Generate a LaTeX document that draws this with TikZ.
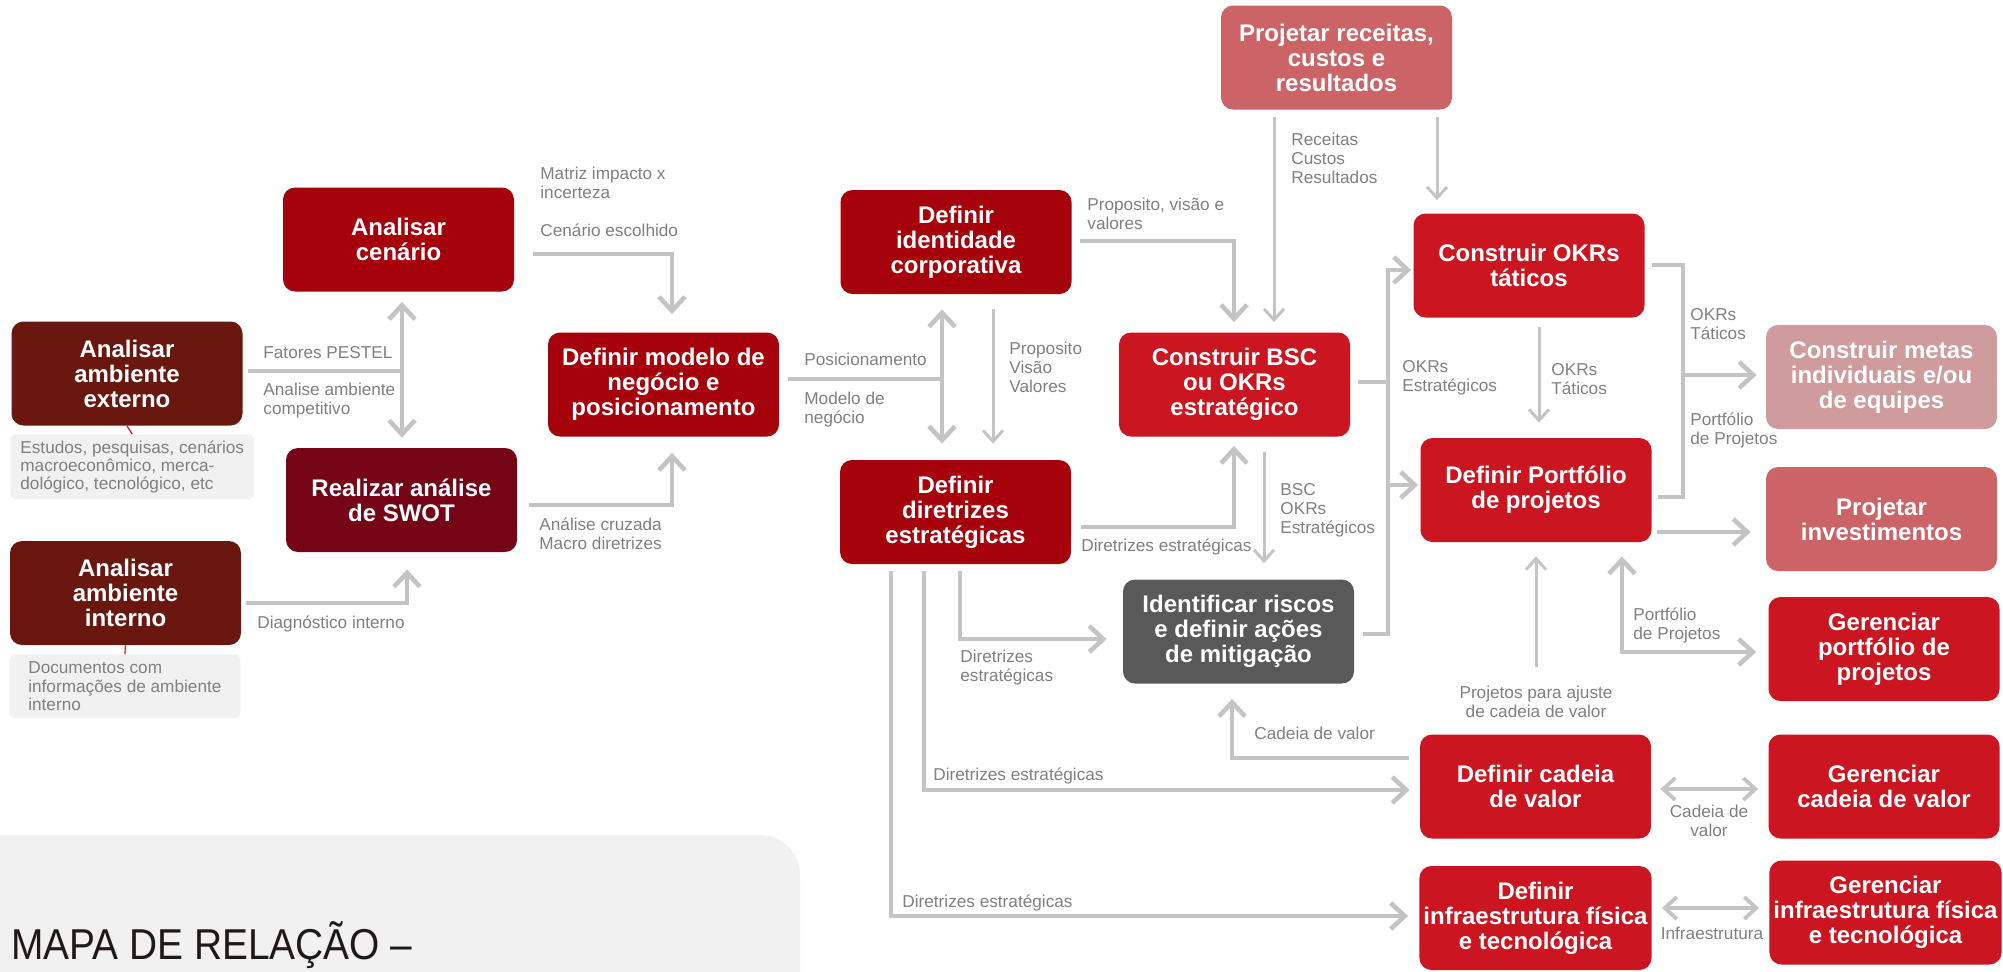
\documentclass[tikz,border=0pt]{standalone}
\usepackage{fontspec}
\setmainfont{Liberation Sans}
\newfontfamily\titlefont{Liberation Sans}[FakeStretch=0.9]
\usetikzlibrary{arrows.meta,calc}
\definecolor{BrownClr}{HTML}{6A1710}
\definecolor{DarkRedClr}{HTML}{A5020C}
\definecolor{MaroonClr}{HTML}{760417}
\definecolor{RedClr}{HTML}{CB1520}
\definecolor{SalmonClr}{HTML}{CC6367}
\definecolor{PinkClr}{HTML}{CF9B9D}
\definecolor{RiskClr}{HTML}{595959}
\definecolor{LineClr}{HTML}{C4C4C4}
\definecolor{LabelClr}{HTML}{808080}
\definecolor{NoteClr}{HTML}{F1F1F1}
\definecolor{TitleClr}{HTML}{1F1A17}

\begin{document}
\begin{tikzpicture}[x=0.5pt,y=-0.5pt,
  box/.style={rounded corners=6pt,minimum width=115.5pt,minimum height=52pt,inner sep=2pt,
    align=center,text=white,font=\fontsize{12}{12.5}\selectfont\bfseries},
  brownbox/.style={box,fill=BrownClr},
  darkbox/.style={box,fill=DarkRedClr},
  maroonbox/.style={box,fill=MaroonClr},
  redbox/.style={box,fill=RedClr},
  salmonbox/.style={box,fill=SalmonClr},
  pinkbox/.style={box,fill=PinkClr},
  riskbox/.style={box,fill=RiskClr},
  note/.style={rounded corners=3pt,fill=NoteClr,anchor=north west,minimum width=115.5pt,minimum height=32pt,
    inner xsep=5pt,inner ysep=3pt,align=left,text=LabelClr,font=\fontsize{8.6}{9.2}\selectfont},
  lbl/.style={inner sep=0pt,anchor=north west,align=left,text=LabelClr,font=\fontsize{8.6}{9.5}\selectfont},
  conn/.style={draw=LineClr,line width=2.3pt,>={Straight Barb[length=7pt,width=13pt]}},
  midconn/.style={draw=LineClr,line width=1.9pt,>={Straight Barb[length=6pt,width=11pt]}},
  fine/.style={draw=LineClr,line width=1.5pt,>={Straight Barb[length=5.5pt,width=10pt]}},
  redline/.style={draw=RedClr,line width=0.6pt}]
\useasboundingbox (0,0) rectangle (2003,971);

\begin{scope}
\clip (0,0) rectangle (2003,971);
\fill[NoteClr,rounded corners=20pt] (-60,835) rectangle (800,1040);
\end{scope}
\node[anchor=base west,inner sep=0pt,text=TitleClr,font=\titlefont\fontsize{21.6}{24}\selectfont] (titulo) at (11,959) {MAPA DE RELAÇÃO –};

% boxes
\node[brownbox] (ambExt) at (127,373.5) {Analisar\\ambiente\\externo};
\node[brownbox] (ambInt) at (125.5,593) {Analisar\\ambiente\\interno};
\node[note] (notaExt) at (10,434) {Estudos, pesquisas, cenários\\macroeconômico, merca-\\dológico, tecnológico, etc};
\node[note] (notaInt) at (9,654) {Documentos com\\informações de ambiente\\interno};
\node[darkbox] (cenario) at (398.5,239.5) {Analisar\\cenário};
\node[maroonbox] (swot) at (401.5,500) {Realizar análise\\de SWOT};
\node[darkbox] (modelo) at (663.5,384.5) {Definir modelo de\\negócio e\\posicionamento};
\node[darkbox] (identidade) at (956,242) {Definir\\identidade\\corporativa};
\node[darkbox] (diretrizes) at (955.5,512) {Definir\\diretrizes\\estratégicas};
\node[salmonbox] (receitas) at (1336.5,57.5) {Projetar receitas,\\custos e\\resultados};
\node[redbox] (bsc) at (1234.5,384.5) {Construir BSC\\ou OKRs\\estratégico};
\node[riskbox] (riscos) at (1238.5,631.5) {Identificar riscos\\e definir ações\\de mitigação};
\node[redbox] (okrTat) at (1529,265.5) {Construir OKRs\\táticos};
\node[redbox] (portfolio) at (1536,490) {Definir Portfólio\\de projetos};
\node[pinkbox] (metas) at (1881.5,377) {Construir metas\\individuais e/ou\\de equipes};
\node[salmonbox] (invest) at (1881.5,519) {Projetar\\investimentos};
\node[redbox] (gerPort) at (1884,649) {Gerenciar\\portfólio de\\projetos};
\node[redbox] (cadeia) at (1535.5,786.5) {Definir cadeia\\de valor};
\node[redbox] (gerCad) at (1884,786.5) {Gerenciar\\cadeia de valor};
\node[redbox] (infra) at (1535.5,918) {Definir\\infraestrutura física\\e tecnológica};
\node[redbox] (gerInfra) at (1885.5,912.5) {Gerenciar\\infraestrutura física\\e tecnológica};

\draw[redline] (ambExt.south) -- (notaExt.north);
\draw[redline] (ambInt.south) -- (notaInt.north);

% junctions
\coordinate (jPest) at (402,371);
\coordinate (jCen) at (672,254);
\coordinate (jSwot) at (672,505);
\coordinate (jInt) at (407,603);
\coordinate (jMod) at (942,379);
\coordinate (jIdV) at (993,0);
\coordinate (jIdB) at (1234,241);
\coordinate (jRecB) at (1274,0);
\coordinate (jRecO) at (1437,0);
\coordinate (rTop) at (1388,270);
\coordinate (rBsc) at (1388,382);
\coordinate (rPort) at (1388,485);
\coordinate (rBot) at (1388,634);
\coordinate (jTat) at (1539,0);
\coordinate (bTop) at (1683,265);
\coordinate (bMid) at (1683,375);
\coordinate (bBot) at (1683,497);
\coordinate (jInv) at (1700,532);
\coordinate (jGp) at (1622,652);
\coordinate (jAj) at (1536,0);
\coordinate (jCr) at (1232,758);
\coordinate (jDb) at (1234,527);
\coordinate (jBr) at (1264,0);
\coordinate (jDr) at (960,639);
\coordinate (jDc) at (924,790);
\coordinate (jDi) at (891,916);
\coordinate (jCg) at (1710,789);
\coordinate (jIg) at (1710,908);

% connectors
\draw[conn,shorten <=2.5pt] (ambExt.east |- jPest) -- (jPest);
\draw[conn,<->,shorten <=5pt,shorten >=5pt] (jPest |- cenario.south) -- (jPest |- swot.north);
\draw[conn,->,shorten <=9.5pt,shorten >=9pt] (cenario.east |- jCen) -| (jCen |- modelo.north);
\draw[conn,->,shorten <=6pt,shorten >=8pt] (swot.east |- jSwot) -| (jSwot |- modelo.south);
\draw[conn,->,shorten <=2.5pt,shorten >=8.5pt] (ambInt.east |- jInt) -| (jInt |- swot.south);
\draw[conn,shorten <=4.5pt] (modelo.east |- jMod) -- (jMod);
\draw[conn,<->,shorten <=7.5pt,shorten >=8pt] (jMod |- identidade.south) -- (jMod |- diretrizes.north);
\draw[fine,->,shorten <=7.5pt,shorten >=8pt] (identidade.south -| jIdV) -- (diretrizes.north -| jIdV);
\draw[conn,->,shorten <=4pt,shorten >=5pt] (identidade.east |- jIdB) -| (jIdB |- bsc.north);
\draw[fine,->,shorten <=3.5pt,shorten >=5pt] (receitas.south -| jRecB) -- (bsc.north -| jRecB);
\draw[fine,->,shorten <=3.5pt,shorten >=6.5pt] (receitas.south -| jRecO) -- (okrTat.north -| jRecO);
\draw[conn,->,shorten <=4.5pt,shorten >=1pt] (riscos.east |- rBot) -| (rTop) -- (okrTat.west |- rTop);
\draw[conn,->,shorten >=1pt] (rPort) -- (portfolio.west |- rPort);
\draw[conn,shorten <=4pt] (bsc.east |- rBsc) -- (rBsc);
\draw[fine,->,shorten <=4.5pt,shorten >=7.5pt] (okrTat.south -| jTat) -- (portfolio.north -| jTat);
\draw[conn,shorten <=3.5pt,shorten >=3pt] (okrTat.east |- bTop) -- (bTop) -- (bBot) -- (portfolio.east |- bBot);
\draw[conn,->,shorten >=4.5pt] (bMid) -- (metas.west |- bMid);
\draw[conn,->,shorten <=2.5pt,shorten >=7.5pt] (portfolio.east |- jInv) -- (invest.west |- jInv);
\draw[conn,<->,shorten <=7pt,shorten >=6pt] (jGp |- portfolio.south) |- (gerPort.west |- jGp);
\draw[fine,->,shorten <=33.5pt,shorten >=7pt] (cadeia.north -| jAj) -- (portfolio.south -| jAj);
\draw[conn,->,shorten <=5.5pt,shorten >=7.5pt] (cadeia.west |- jCr) -| (jCr |- riscos.south);
\draw[conn,->,shorten <=5pt,shorten >=4.5pt] (diretrizes.east |- jDb) -| (jDb |- bsc.south);
\draw[fine,->,shorten <=7.5pt,shorten >=8pt] (bsc.south -| jBr) -- (riscos.north -| jBr);
\draw[conn,->,shorten <=3.5pt,shorten >=8pt] (diretrizes.south -| jDr) |- (riscos.west |- jDr);
\draw[conn,->,shorten <=3.5pt,shorten >=5pt] (diretrizes.south -| jDc) |- (cadeia.west |- jDc);
\draw[conn,->,shorten <=3.5pt,shorten >=5.5pt] (diretrizes.south -| jDi) |- (infra.west |- jDi);
\draw[midconn,<->,shorten <=4.5pt,shorten >=5pt] (cadeia.east |- jCg) -- (gerCad.west |- jCg);
\draw[midconn,<->,shorten <=5pt,shorten >=5pt] (infra.east |- jIg) -- (gerInfra.west |- jIg);

% labels
\node[lbl] (lPest) at (263,346) {Fatores PESTEL};
\node[lbl] (lComp) at (263,383) {Analise ambiente\\competitivo};
\node[lbl] (lMatriz) at (540,167) {Matriz impacto x\\incerteza};
\node[lbl] (lEscolha) at (540,223) {Cenário escolhido};
\node[lbl] (lCruzada) at (539,517) {Análise cruzada\\Macro diretrizes};
\node[lbl] (lDiag) at (257,615) {Diagnóstico interno};
\node[lbl] (lPos) at (804,353) {Posicionamento};
\node[lbl] (lNeg) at (804,392) {Modelo de\\negócio};
\node[lbl] (lPvv) at (1009,342) {Proposito\\Visão\\Valores};
\node[lbl] (lPvv2) at (1087,198) {Proposito, visão e\\valores};
\node[lbl] (lRec) at (1291,133) {Receitas\\Custos\\Resultados};
\node[lbl] (lOkrE) at (1402,360) {OKRs\\Estratégicos};
\node[lbl] (lOkrT) at (1551,363) {OKRs\\Táticos};
\node[lbl] (lOkrT2) at (1690,308) {OKRs\\Táticos};
\node[lbl] (lPort) at (1690,412) {Portfólio\\de Projetos};
\node[lbl] (lBsc) at (1280,483) {BSC\\OKRs\\Estratégicos};
\node[lbl] (lDir1) at (1081,538) {Diretrizes estratégicas};
\node[lbl] (lDir2) at (960,650) {Diretrizes\\estratégicas};
\node[lbl] (lCad) at (1254,727) {Cadeia de valor};
\node[lbl] (lDir3) at (933,767) {Diretrizes estratégicas};
\node[lbl] (lDir4) at (902,894) {Diretrizes estratégicas};
\node[lbl] (lPort2) at (1633,607) {Portfólio\\de Projetos};
\node[lbl,anchor=north,align=center] (lAjuste) at (1536,686) {Projetos para ajuste\\de cadeia de valor};
\node[lbl,anchor=north,align=center] (lCad2) at (1709,805) {Cadeia de\\valor};
\node[lbl,anchor=north,align=center] (lInfra) at (1712,927) {Infraestrutura};

\end{tikzpicture}
\end{document}
